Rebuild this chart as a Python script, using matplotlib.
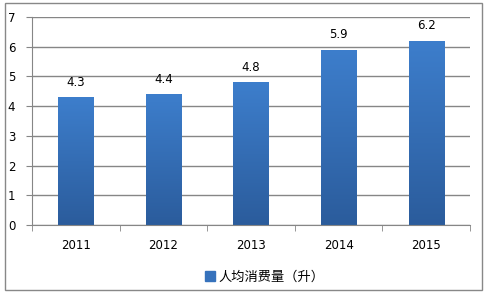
import matplotlib
matplotlib.use("Agg")
import matplotlib.pyplot as plt
import numpy as np
from matplotlib.patches import Rectangle
from matplotlib.colors import LinearSegmentedColormap

plt.rcParams['font.family'] = ['Noto Sans CJK SC', 'DejaVu Sans']

years = ['2011', '2012', '2013', '2014', '2015']
values = [4.3, 4.4, 4.8, 5.9, 6.2]
series_name = '人均消费量（升）'

fig = plt.figure(figsize=(4.88, 2.94), dpi=100)
ax = fig.add_axes([32/488, 1-225/294, (470-32)/488, (225-17)/294])

x = np.arange(len(years))
width = 0.4
cmap = LinearSegmentedColormap.from_list('g', ['#2B5C9C', '#3D7ECC'])
bars = ax.bar(x, values, width=width, color='#3672BC', zorder=2)
grad = np.linspace(0, 1, 256).reshape(-1, 1)
for b, v in zip(bars, values):
    bx, by = b.get_x(), b.get_y()
    w, h = b.get_width(), b.get_height()
    im = ax.imshow(grad, cmap=cmap, aspect='auto', origin='lower',
                   extent=[bx, bx + w, by, by + h], zorder=3)
    im.set_clip_path(b)
    ax.text(bx + w/2, h + 0.28, f'{v}', ha='center',
            va='bottom', fontsize=8.5, color='#000000', family='DejaVu Sans')

ax.set_xlim(-0.5, len(years) - 0.5)
ax.set_ylim(0, 7)
ax.set_yticks(range(0, 8))
ax.set_yticklabels([str(i) for i in range(0, 8)], fontsize=8.5, family='DejaVu Sans')
ax.set_xticks(x)
ax.set_xticklabels(years, fontsize=8.5, family='DejaVu Sans')
ax.set_xticks(np.arange(-0.5, len(years)), minor=True)
ax.tick_params(axis='x', which='major', length=0, pad=10)
ax.tick_params(axis='x', which='minor', length=4, color='#868686')
ax.tick_params(axis='y', length=4, color='#868686', pad=8)
ax.grid(axis='y', color='#868686', linewidth=1, zorder=0)
ax.set_axisbelow(True)
for s in ['top', 'right']:
    ax.spines[s].set_visible(False)
for s in ['left', 'bottom']:
    ax.spines[s].set_color('#868686')
ax.spines['bottom'].set_zorder(4)

fig.legend([Rectangle((0, 0), 1, 1, color='#3672BC')], [series_name],
           loc='center', bbox_to_anchor=(265/488, 1-277/294),
           frameon=False, fontsize=9.5, handlelength=0.7, handleheight=0.7,
           handletextpad=0.3, borderpad=0)

fig.add_artist(Rectangle((5/488, 1-290/294), (482-5)/488, (290-3)/294,
                         transform=fig.transFigure, fill=False,
                         edgecolor='#888888', linewidth=1))
fig.savefig('out.png', dpi=100)
